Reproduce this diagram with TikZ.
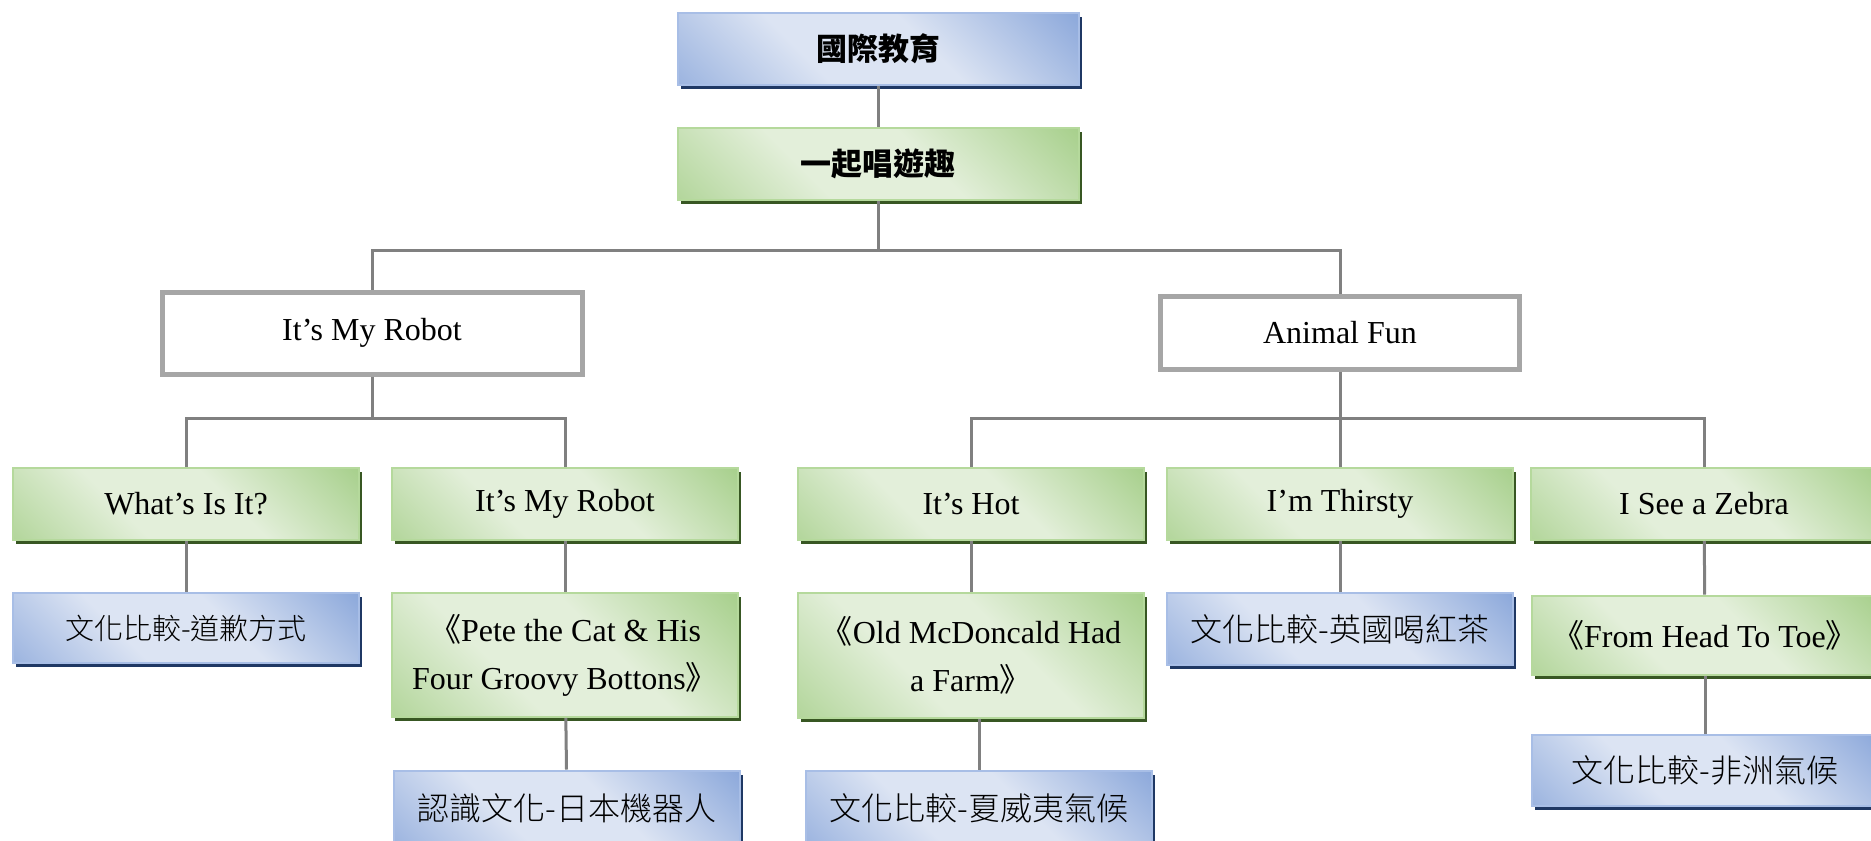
\documentclass[tikz,border=0pt]{standalone}
\usepackage{fontspec}
\setmainfont{Liberation Serif}
\newfontfamily\cjk{Noto Sans CJK TC}
\IfFontExistsTF{Noto Sans CJK TC Light}
  {\newfontfamily\cjklight{Noto Sans CJK TC Light}}
  {\IfFontExistsTF{Noto Sans CJK TC DemiLight}
    {\newfontfamily\cjklight{Noto Sans CJK TC DemiLight}}
    {\newfontfamily\cjklight{Noto Sans CJK TC}}}
\usepackage{tikz}
\usetikzlibrary{shadows}
\definecolor{edublue}{HTML}{8DA9DB}
\definecolor{edubluepale}{HTML}{DCE4F3}
\definecolor{edublueedge}{HTML}{A8BEE6}
\definecolor{edubluedark}{HTML}{1F3864}
\definecolor{edugreen}{HTML}{A8D08D}
\definecolor{edugreenpale}{HTML}{E3EFDA}
\definecolor{edugreenedge}{HTML}{B5D99C}
\definecolor{edugreendark}{HTML}{385723}
\definecolor{edugris}{HTML}{808080}
\definecolor{edugrisbox}{HTML}{A6A6A6}
\pgfdeclarehorizontalshading{edubluefx}{100bp}{color(0bp)=(edublue!80!edubluepale); color(15bp)=(edublue!80!edubluepale);
  color(38bp)=(edubluepale); color(58bp)=(edubluepale); color(85bp)=(edublue); color(100bp)=(edublue)}
\pgfdeclarehorizontalshading{edugreenfx}{100bp}{color(0bp)=(edugreen!80!edugreenpale); color(15bp)=(edugreen!80!edugreenpale);
  color(38bp)=(edugreenpale); color(58bp)=(edugreenpale); color(85bp)=(edugreen); color(100bp)=(edugreen)}

\tikzset{
  bbox/.style={draw=edublueedge,line width=1pt,shade,shading=edubluefx,shading angle=45,
    drop shadow={shadow xshift=1.5pt,shadow yshift=-2pt,fill=edubluedark,opacity=1},
    minimum width=173pt,minimum height=36pt,inner sep=0pt,font=\cjklight\fontsize{16}{20}\selectfont},
  gbox/.style={draw=edugreenedge,line width=1pt,shade,shading=edugreenfx,shading angle=45,
    drop shadow={shadow xshift=1.5pt,shadow yshift=-2pt,fill=edugreendark,opacity=1},
    minimum width=173pt,minimum height=36pt,inner sep=0pt,align=center,font=\fontsize{16}{24}\selectfont},
  wbox/.style={draw=edugrisbox,line width=2.5pt,fill=white,inner sep=0pt,font=\fontsize{16}{20}\selectfont},
  link/.style={edugris,line width=1.5pt}
}

\begin{document}
\begin{tikzpicture}[x=0.5pt,y=-0.5pt]
  \useasboundingbox (0,0) rectangle (1871,840);
  % sommet
  \node[bbox,minimum width=200.5pt,font=\cjk\bfseries\fontsize{15.5}{18}\selectfont] (intl) at (878,49) {國際教育};
  \node[gbox,minimum width=200.5pt,font=\cjk\bfseries\fontsize{15.5}{18}\selectfont] (sing) at (878,164) {一起唱遊趣};
  % units
  \node[wbox,minimum width=210pt,minimum height=41pt] (robot) at (372,333) {It’s My Robot};
  \node[wbox,minimum width=179.5pt,minimum height=36.5pt] (animal) at (1340,333) {Animal Fun};
  % lessons : name / x / title
  \foreach \n/\x/\t in {what/186/What’s Is It?, myrobot/565/It’s My Robot, hot/971/It’s Hot, thirsty/1340/I’m Thirsty, zebra/1704/I See a Zebra}
    \node[gbox] (\n) at (\x,504) {\t};
  % books and culture
  \node[bbox,minimum height=35pt,font=\cjklight\fontsize{14.5}{18}\selectfont] (apology) at (186,628) {文化比較-道歉方式};
  \node[gbox,minimum height=62pt] (pete) at (565,655) {{\cjk 《}Pete the Cat \& His\\Four Groovy Bottons{\cjk 》}};
  \node[bbox,minimum height=37.5pt] (japan) at (567,808) {認識文化-日本機器人};
  \node[gbox,minimum height=62.5pt] (farm) at (971,655) {{\cjk 《}Old McDoncald Had\\a Farm{\cjk 》}};
  \node[bbox,minimum height=37.5pt] (hawaii) at (979,808) {文化比較-夏威夷氣候};
  \node[bbox] (tea) at (1340,629) {文化比較-英國喝紅茶};
  \node[gbox,minimum height=39.5pt] (toe) at (1705,635) {{\cjk 《}From Head To Toe{\cjk 》}};
  \node[bbox,minimum height=35.5pt] (africa) at (1705,770) {文化比較-非洲氣候};
  % links
  \coordinate (busT) at (sing.south |- 0,250);
  \coordinate (busL) at (robot.south |- 0,418);
  \coordinate (busR) at (animal.south |- 0,418);
  \draw[link] (intl) -- (sing);
  \draw[link] (sing) -- (busT);
  \draw[link] (robot.north) |- (busT) -| (animal.north);
  \draw[link] (robot) -- (busL);
  \draw[link] (what.north) |- (busL) -| (myrobot.north);
  \draw[link] (animal) -- (busR);
  \draw[link] (hot.north) |- (busR) -| (zebra.north);
  \draw[link] (thirsty) -- (busR);
  \foreach \a/\b in {what/apology, myrobot/pete, pete/japan, hot/farm, thirsty/tea, zebra/toe, toe/africa}
    \draw[link] (\a) -- (\b);
  \draw[link] (farm.south -| hawaii) -- (hawaii.north);
\end{tikzpicture}
\end{document}
